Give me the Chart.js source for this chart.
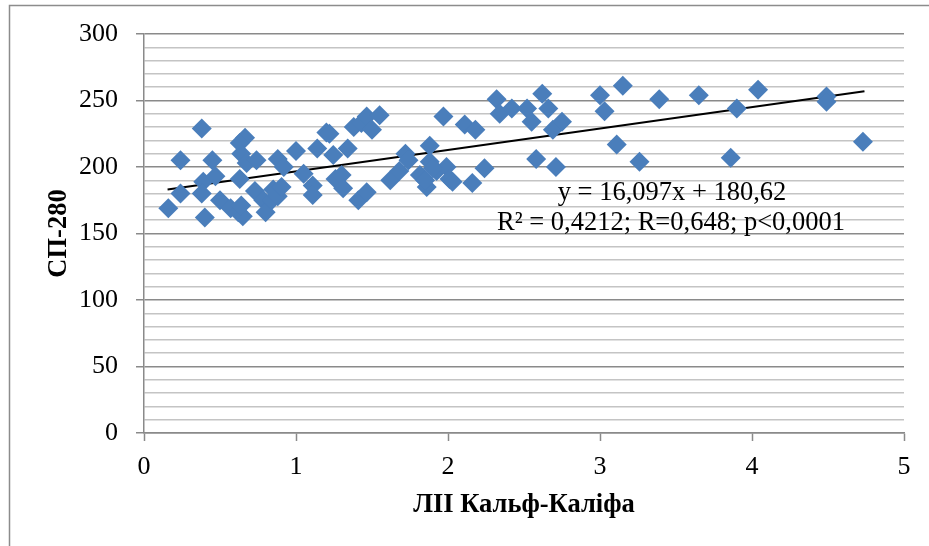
<!DOCTYPE html>
<html>
<head>
<meta charset="utf-8">
<script src="https://cdn.jsdelivr.net/npm/chart.js@4/dist/chart.umd.min.js"></script>
<style>
  html, body { margin: 0; padding: 0; background: #fff; }
  #wrap { width: 929px; height: 546px; position: relative; }
</style>
</head>
<body>
<div id="wrap"><canvas id="chart" width="929" height="546"></canvas></div>
<script>
// ЛІІ Кальф-Каліфа (x) vs СП-280 (y)
const liiValues = [
  0.16, 0.24, 0.24, 0.38, 0.39, 0.38, 0.40, 0.45, 0.47, 0.50,
  0.57, 0.62, 0.65, 0.64, 0.63, 0.665, 0.63, 0.64, 0.675, 0.74,
  0.73, 0.785, 0.80, 0.84, 0.85, 0.88, 0.905, 0.88, 0.92, 1.00,
  1.05, 1.11, 1.11, 1.14, 1.20, 1.22, 1.245, 1.26, 1.30, 1.31,
  1.34, 1.38, 1.43, 1.465, 1.50, 1.55, 1.41, 1.465, 1.62, 1.68,
  1.72, 1.74, 1.815, 1.88, 1.88, 1.86, 1.925, 1.99, 2.01, 1.97,
  1.85, 1.90, 2.11, 2.18, 2.03, 2.16, 2.24, 2.32, 2.34, 2.42,
  2.52, 2.55, 2.62, 2.66, 2.69, 2.75, 2.58, 2.71, 3.00, 3.03,
  3.15, 3.39, 3.65, 3.90, 4.04, 3.11, 3.26, 3.86, 4.49, 4.49,
  4.73
];
const spValues = [
  169, 205, 180, 229, 189, 180, 162, 205, 193, 175,
  169, 166, 163, 171, 191, 222, 218, 210, 203, 205,
  182, 175, 166, 175, 183, 178, 185, 206, 200, 212,
  195, 186, 179, 214, 226, 225, 209, 191, 194, 184,
  214, 230, 233, 238, 228, 239, 175, 181, 190, 197,
  210, 205, 194, 216, 204, 185, 197, 200, 191, 238,
  190, 199, 232, 228, 189, 188, 199, 251, 240, 244,
  244, 234, 255, 244, 228, 234, 206, 200, 254, 242,
  261, 251, 254, 244, 258, 217, 204, 207, 253, 249,
  219
];

// linear trend y = 16,097x + 180,62
const trendSlope = 16.097;
const trendIntercept = 180.62;
const trendRange = [0.155, 4.74];
const trendLabels = ['y = 16,097x + 180,62', 'R² = 0,4212; R=0,648; p<0,0001'];

const yTicksMajor = 50;
const serif = "'Liberation Serif', 'Times New Roman', serif";

const points = liiValues.map((x, i) => ({ x: x, y: spValues[i] }));
const trendPoints = trendRange.map(x => ({ x: x, y: trendSlope * x + trendIntercept }));

const frameAndText = {
  id: 'frameAndText',
  afterDraw(chart) {
    const ctx = chart.ctx;
    ctx.save();
    // outer frame (runs past the right and bottom edges)
    ctx.strokeStyle = '#8c8c8c';
    ctx.lineWidth = 1.5;
    ctx.beginPath();
    ctx.moveTo(9.5, 546);
    ctx.lineTo(9.5, 5.5);
    ctx.lineTo(929, 5.5);
    ctx.stroke();

    // trend equation
    ctx.fillStyle = '#000';
    ctx.font = '26.5px ' + serif;
    ctx.textAlign = 'center';
    ctx.textBaseline = 'alphabetic';
    ctx.fillText(trendLabels[0], 672, 200);
    ctx.fillText(trendLabels[1], 671, 230);
    ctx.restore();
  }
};

new Chart(document.getElementById('chart'), {
  type: 'scatter',
  data: {
    datasets: [
      {
        data: points,
        pointStyle: 'rectRot',
        pointRadius: 10,
        pointHoverRadius: 10,
        backgroundColor: '#4A7EBB',
        borderColor: '#4A7EBB',
        borderWidth: 0
      },
      {
        type: 'line',
        data: trendPoints,
        borderColor: '#000',
        borderWidth: 2,
        pointRadius: 0,
        fill: false
      }
    ]
  },
  options: {
    responsive: false,
    animation: false,
    devicePixelRatio: 1,
    layout: { padding: { top: 34, right: 25, left: 0, bottom: 0 } },
    plugins: { legend: { display: false }, tooltip: { enabled: false } },
    scales: {
      x: {
        type: 'linear',
        min: 0,
        max: 5,
        afterFit(scale) { scale.height = 113; },
        ticks: { stepSize: 1, padding: 11, color: '#000', font: { family: serif, size: 26 } },
        grid: { drawOnChartArea: false, drawTicks: true, tickLength: 8, tickColor: '#8a8a8a', tickWidth: 1.5 },
        border: { color: '#8a8a8a', width: 1.5 },
        title: {
          display: true,
          text: 'ЛІІ Кальф-Каліфа',
          color: '#000',
          font: { family: serif, size: 26.5, weight: 'bold' },
          padding: { top: 0, bottom: 25 }
        }
      },
      y: {
        type: 'linear',
        min: 0,
        max: 300,
        afterFit(scale) { scale.width = 144; },
        ticks: {
          stepSize: 10,
          autoSkip: false,
          padding: 18,
          color: '#000',
          font: { family: serif, size: 26 },
          callback: v => (v % yTicksMajor === 0 ? v : '')
        },
        grid: {
          color: c => (c.tick && c.tick.value % yTicksMajor === 0 ? '#8a8a8a' : '#c4c4c4'),
          lineWidth: 1.5,
          tickLength: 8,
          tickColor: c => (c.tick && c.tick.value % yTicksMajor === 0 ? '#8a8a8a' : 'rgba(0,0,0,0)'),
          tickWidth: 1.5
        },
        border: { color: '#8a8a8a', width: 1.5 },
        title: {
          display: true,
          text: 'СП-280',
          color: '#000',
          font: { family: serif, size: 26.5, weight: 'bold' },
          padding: { top: 43, bottom: 0 }
        }
      }
    }
  },
  plugins: [frameAndText]
});
</script>
</body>
</html>
